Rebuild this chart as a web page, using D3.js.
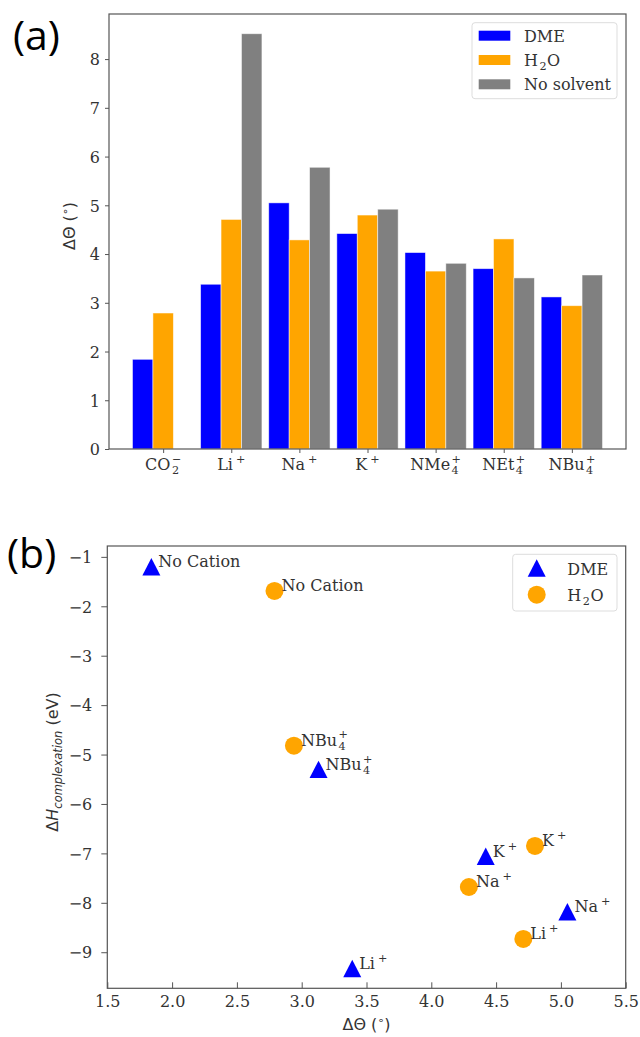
<!DOCTYPE html>
<html>
<head>
<meta charset="utf-8">
<script src="https://cdn.jsdelivr.net/npm/d3@7"></script>
<style>
  body { margin: 0; background: #fff; }
  svg { display: block; }
  .tick text, .lbl { font-family: "DejaVu Serif", serif; fill: #333; }
  .ax-title { font-family: "DejaVu Sans", sans-serif; fill: #333; }
</style>
</head>
<body>
<div id="chart"></div>
<script>
// panel (a): bar chart data
var categories = [
  { base: "CO", sub: "2", sup: "\u2212" },
  { base: "Li", sup: "+" },
  { base: "Na", sup: "+" },
  { base: "K", sup: "+" },
  { base: "NMe", sub: "4", sup: "+" },
  { base: "NEt", sub: "4", sup: "+" },
  { base: "NBu", sub: "4", sup: "+" }
];
var dmeBars       = [1.84, 3.38, 5.05, 4.42, 4.03, 3.70, 3.12];
var h2oBars       = [2.79, 4.71, 4.29, 4.80, 3.65, 4.31, 2.94];
var noSolventBars = [null, 8.52, 5.78, 4.92, 3.81, 3.51, 3.57];
var barTicks = [0, 1, 2, 3, 4, 5, 6, 7, 8];

// panel (b): scatter data
var dmeLabels = [{ base: "No Cation" }, { base: "NBu", sub: "4", sup: "+" }, { base: "Li", sup: "+" }, { base: "Na", sup: "+" }, { base: "K", sup: "+" }];
var dmeX = [1.84, 3.13, 3.39, 5.05, 4.42];
var dmeY = [-1.21, -5.31, -9.34, -8.19, -7.07];
var h2oLabels = [{ base: "No Cation" }, { base: "NBu", sub: "4", sup: "+" }, { base: "Li", sup: "+" }, { base: "Na", sup: "+" }, { base: "K", sup: "+" }];
var h2oX = [2.79, 2.94, 4.71, 4.29, 4.80];
var h2oY = [-1.69, -4.82, -8.73, -7.68, -6.85];
var scatterXTicks = [1.5, 2.0, 2.5, 3.0, 3.5, 4.0, 4.5, 5.0, 5.5];
var scatterYTicks = [-1, -2, -3, -4, -5, -6, -7, -8, -9];

var BLUE = "#0000ff", ORANGE = "#ffa500", GREY = "#808080", SPINE = "#555";
var FS = 16;

var svg = d3.select("#chart").append("svg")
  .attr("width", 640).attr("height", 1037);

// text with stacked sub/superscripts, like matplotlib mathtext
function mathText(parent, x, y, parts, anchor, fs) {
  fs = fs || FS;
  var g = parent.append("g").attr("class", "lbl");
  var t = g.append("text").attr("font-size", fs).text(parts.base);
  var w = t.node().getComputedTextLength();
  var extra = 0;
  var gap = parts.sub ? 1.5 : (parts.sup ? 3 : 0);
  if (parts.sup) {
    var s = g.append("text").attr("x", w + gap).attr("y", -0.45 * fs)
      .attr("font-size", 0.7 * fs).text(parts.sup);
    extra = Math.max(extra, s.node().getComputedTextLength());
  }
  if (parts.sub) {
    var b = g.append("text").attr("x", w + gap).attr("y", 0.27 * fs)
      .attr("font-size", 0.7 * fs).text(parts.sub);
    extra = Math.max(extra, b.node().getComputedTextLength());
  }
  var total = w + gap + extra;
  var dx = anchor === "middle" ? -total / 2 : 0;
  g.attr("transform", "translate(" + (x + dx) + "," + y + ")");
  return g;
}

function frame(g, x0, x1, y0, y1) {
  g.append("rect").attr("x", x0).attr("y", y0)
    .attr("width", x1 - x0).attr("height", y1 - y0)
    .attr("fill", "none").attr("stroke", SPINE).attr("stroke-width", 1.2);
}

//////// PANEL (a)
var A = { left: 109, right: 626, top: 14, bottom: 449 };
var xa = d3.scaleLinear().domain([-0.795, 6.795]).range([A.left, A.right]);
var ya = d3.scaleLinear().domain([0, 8.925]).range([A.bottom, A.top]);
var barW = 0.3;

var ga = svg.append("g");
var series = [
  { name: "DME", vals: dmeBars, color: BLUE, off: -barW },
  { name: "H\u2082O", vals: h2oBars, color: ORANGE, off: 0 },
  { name: "No solvent", vals: noSolventBars, color: GREY, off: barW }
];

series.forEach(function(s) {
  ga.selectAll(null)
    .data(s.vals.map(function(v, i) { return { v: v, i: i }; }).filter(function(d) { return d.v != null; }))
    .enter().append("rect")
    .attr("x", function(d) { return xa(d.i + s.off - barW / 2); })
    .attr("width", xa(barW) - xa(0))
    .attr("y", function(d) { return ya(d.v); })
    .attr("height", function(d) { return ya(0) - ya(d.v); })
    .attr("fill", s.color)
    .attr("stroke", "#fff").attr("stroke-opacity", 0.6).attr("stroke-width", 0.8);
});

var yAxisA = ga.append("g")
  .attr("transform", "translate(" + A.left + ",0)")
  .call(d3.axisLeft(ya).tickValues(barTicks).tickSize(4).tickPadding(5).tickFormat(d3.format("d")));
yAxisA.select(".domain").remove();
yAxisA.selectAll("line").attr("stroke", SPINE);
yAxisA.selectAll("text").attr("font-size", FS).attr("dy", "0.36em");

var xAxisA = ga.append("g")
  .attr("transform", "translate(0," + A.bottom + ")")
  .call(d3.axisBottom(xa).tickValues(d3.range(categories.length)).tickSize(4).tickFormat(""));
xAxisA.select(".domain").remove();
xAxisA.selectAll("line").attr("stroke", SPINE);
categories.forEach(function(c, i) {
  mathText(ga, xa(i), 470, c, "middle");
});

frame(ga, A.left, A.right, A.top, A.bottom);

var yta = ga.append("text").attr("class", "ax-title")
  .attr("transform", "translate(75,226) rotate(-90)")
  .attr("text-anchor", "middle").attr("font-size", FS);
yta.append("tspan").text("\u0394\u0398 (");
yta.append("tspan").attr("font-size", 11).attr("dy", -6).text("\u2218");
yta.append("tspan").attr("dy", 6).text(")");

// legend (a)
var la = ga.append("g");
la.append("rect").attr("x", 472).attr("y", 22.7).attr("width", 145).attr("height", 76)
  .attr("rx", 3).attr("fill", "#fff").attr("fill-opacity", 0.8)
  .attr("stroke", "#ddd").attr("stroke-width", 1);
series.forEach(function(s, k) {
  var cy = 35.7 + k * 24.3;
  la.append("rect").attr("x", 478.7).attr("y", cy - 5).attr("width", 31.6).attr("height", 10)
    .attr("fill", s.color);
  if (k === 1) {
    var h = mathText(la, 524, cy + 6, { base: "H", sub: "2" }, "start");
    var hbb = h.node().getBBox();
    h.append("text").attr("x", hbb.x + hbb.width + 0.5).attr("y", 0).attr("font-size", FS).text("O");
  } else {
    la.append("text").attr("class", "lbl").attr("x", 524).attr("y", cy + 6)
      .attr("font-size", FS).text(s.name);
  }
});

svg.append("text").attr("x", 13).attr("y", 50)
  .attr("font-family", "'Open Sans', sans-serif").attr("font-size", 41).attr("fill", "#000")
  .text("(a)");

//////// PANEL (b)
var B = { left: 107.3, right: 625.7, top: 546, bottom: 988.3 };
var xb = d3.scaleLinear().domain([1.5, 5.5]).range([B.left, B.right]);
var yb = d3.scaleLinear().domain([-9.73, -0.78]).range([B.bottom, B.top]);

var gb = svg.append("g");

var yAxisB = gb.append("g")
  .attr("transform", "translate(" + B.left + ",0)")
  .call(d3.axisLeft(yb).tickValues(scatterYTicks).tickSize(6).tickPadding(9).tickFormat(d3.format("d")));
yAxisB.select(".domain").remove();
yAxisB.selectAll("line").attr("stroke", SPINE);
yAxisB.selectAll("text").attr("font-size", FS).attr("dy", "0.36em");

var xAxisB = gb.append("g")
  .attr("transform", "translate(0," + B.bottom + ")")
  .call(d3.axisBottom(xb).tickValues(scatterXTicks).tickSizeInner(-6).tickSizeOuter(0).tickPadding(19).tickFormat(d3.format(".1f")));
xAxisB.select(".domain").remove();
xAxisB.selectAll("line").attr("stroke", SPINE);
xAxisB.selectAll("text").attr("font-size", FS).attr("dy", "0");

frame(gb, B.left, B.right, B.top, B.bottom);

var triPath = "M0,-9L9,9L-9,9Z";

// DME triangles
gb.selectAll(null).data(dmeX).enter().append("path")
  .attr("d", triPath)
  .attr("transform", function(d, i) { return "translate(" + xb(d) + "," + (yb(dmeY[i]) - 0.5) + ") scale(1,0.97)"; })
  .attr("fill", BLUE);
dmeX.forEach(function(d, i) {
  mathText(gb, xb(d) + 7, yb(dmeY[i]), dmeLabels[i], "start");
});

// H2O circles
gb.selectAll(null).data(h2oX).enter().append("circle")
  .attr("cx", function(d) { return xb(d); })
  .attr("cy", function(d, i) { return yb(h2oY[i]); })
  .attr("r", 9)
  .attr("fill", ORANGE);
h2oX.forEach(function(d, i) {
  mathText(gb, xb(d) + 7, yb(h2oY[i]), h2oLabels[i], "start");
});

// axis titles (b)
var yt = gb.append("text").attr("class", "ax-title")
  .attr("transform", "translate(58,762) rotate(-90)")
  .attr("text-anchor", "middle").attr("font-size", FS);
yt.append("tspan").text("\u0394");
yt.append("tspan").attr("font-style", "italic").text("H");
yt.append("tspan").attr("font-style", "italic").attr("font-size", 11.5).attr("dy", 3.5).text("complexation");
yt.append("tspan").attr("dy", -3.5).text(" (eV)");

var xt = gb.append("text").attr("class", "ax-title")
  .attr("x", 366.5).attr("y", 1030)
  .attr("text-anchor", "middle").attr("font-size", FS);
xt.append("tspan").text("\u0394\u0398 (");
xt.append("tspan").attr("font-size", 11).attr("dy", -6).text("\u2218");
xt.append("tspan").attr("dy", 6).text(")");

// legend (b)
var lb = gb.append("g");
lb.append("rect").attr("x", 512.7).attr("y", 554.3).attr("width", 104.3).attr("height", 56.7)
  .attr("rx", 3).attr("fill", "#fff").attr("fill-opacity", 0.8)
  .attr("stroke", "#ddd").attr("stroke-width", 1);
lb.append("path").attr("d", triPath)
  .attr("transform", "translate(536.7,568) scale(1,0.97)").attr("fill", BLUE);
lb.append("circle").attr("cx", 536.7).attr("cy", 594.7).attr("r", 9).attr("fill", ORANGE);
lb.append("text").attr("class", "lbl").attr("x", 567.3).attr("y", 575).attr("font-size", FS).text("DME");
var h2 = mathText(lb, 567.3, 600.5, { base: "H", sub: "2" }, "start");
var hb = h2.node().getBBox();
h2.append("text").attr("x", hb.x + hb.width + 0.5).attr("y", 0).attr("font-size", FS).text("O");

svg.append("text").attr("x", 7).attr("y", 568)
  .attr("font-family", "'Open Sans', sans-serif").attr("font-size", 41).attr("fill", "#000")
  .text("(b)");
</script>
</body>
</html>
